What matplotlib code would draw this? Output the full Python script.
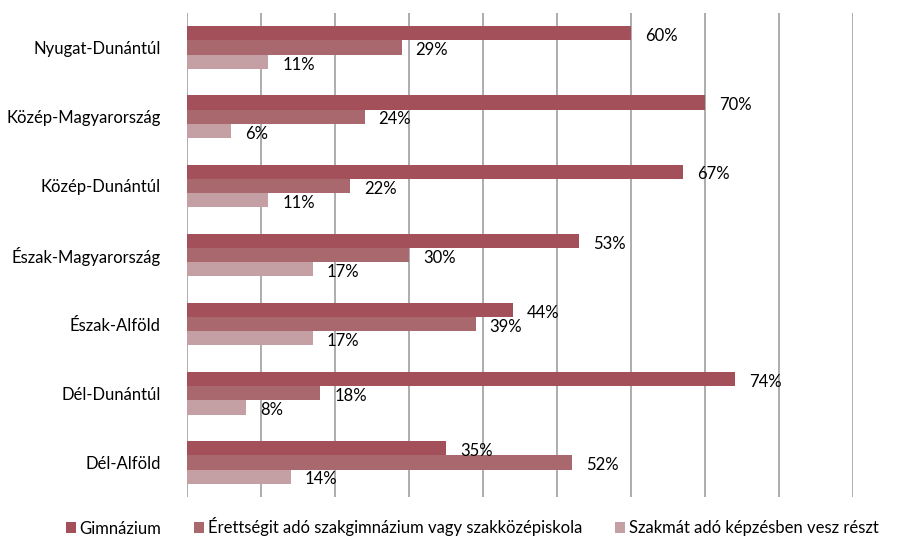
import numpy as np
import matplotlib.pyplot as plt
from matplotlib.patches import Patch

plt.rcParams['font.family'] = ['Lato', 'DejaVu Sans']

regions = ['Nyugat-Dunántúl', 'Közép-Magyarország', 'Közép-Dunántúl',
           'Észak-Magyarország', 'Észak-Alföld', 'Dél-Dunántúl', 'Dél-Alföld']
gimnazium = [60, 70, 67, 53, 44, 74, 35]
szakgimn = [29, 24, 22, 30, 39, 18, 52]
szakma = [11, 6, 11, 17, 17, 8, 14]

series = [
    ('Gimnázium', gimnazium, '#A3505A'),
    ('Érettségit adó szakgimnázium vagy szakközépiskola', szakgimn, '#A8686D'),
    ('Szakmát adó képzésben vesz részt', szakma, '#C4A0A4'),
]

fig = plt.figure(figsize=(9.19, 5.46), dpi=100)
ax = fig.add_axes([187 / 919, 1 - 497 / 546, (853 - 187) / 919, (497 - 13) / 546])

y = np.arange(len(regions))
h = 0.205
for i, (name, vals, col) in enumerate(series):
    pos = y + (i - 1) * h
    ax.barh(pos, vals, height=h, color=col, label=name, zorder=3)
    for p, v in zip(pos, vals):
        ax.text(v + 1.9, p + 0.04, f'{v}%', va='center', ha='left', fontsize=12, color='black', zorder=4)

ax.set_xlim(0, 90)
ax.set_ylim(len(regions) - 0.5, -0.5)
ax.set_xticks(np.arange(0, 91, 10))
ax.set_xticklabels([])
ax.tick_params(axis='x', length=0)
ax.tick_params(axis='y', length=0, pad=19, labelsize=12)
ax.set_yticks(y)
ax.set_yticklabels(regions)
ax.grid(axis='x', color='#A6A6A6', linewidth=1.3, zorder=0)
for s in ax.spines.values():
    s.set_visible(False)

handles = [Patch(facecolor=c, label=n) for n, _, c in series]
fig.legend(handles=handles, loc='center', bbox_to_anchor=(472 / 919, 1 - 527 / 546), ncol=3,
           frameon=False, fontsize=12, handlelength=0.6, handleheight=0.6,
           handletextpad=0.2, columnspacing=2.0)

fig.savefig('out.png', dpi=100)
